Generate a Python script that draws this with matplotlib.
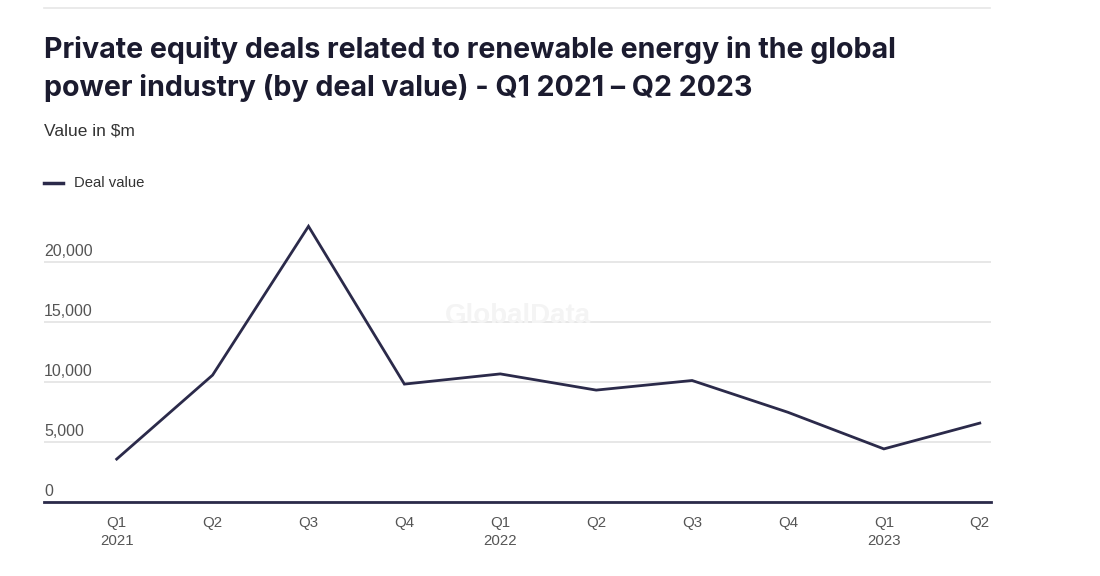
import matplotlib
matplotlib.use("Agg")
import matplotlib.pyplot as plt
from matplotlib.lines import Line2D

quarters = ["Q1", "Q2", "Q3", "Q4", "Q1", "Q2", "Q3", "Q4", "Q1", "Q2"]
years = ["2021", "", "", "", "2022", "", "", "", "2023", ""]
deal_value = [3600, 10600, 23000, 9850, 10700, 9350, 10150, 7500, 4450, 6600]
y_ticks = [0, 5000, 10000, 15000, 20000]

W, H = 1100, 576
fig = plt.figure(figsize=(W / 100, H / 100), dpi=100)
fig.patch.set_facecolor("white")

def fy(py):
    return 1 - py / H

left, right = 44 / W, 991 / W
bottom, top = fy(502.3), fy(202.3)
ax = fig.add_axes([left, bottom, right - left, top - bottom])

navy = "#2b2a4a"
grey_txt = "#555555"

x = list(range(len(deal_value)))
ax.plot(x, deal_value, color=navy, lw=2.0, solid_joinstyle="miter", zorder=3)
ax.set_xlim(-0.758, 9.117)
ax.set_ylim(0, 25000)

for s in ["top", "right", "left"]:
    ax.spines[s].set_visible(False)
ax.spines["bottom"].set_color(navy)
ax.spines["bottom"].set_linewidth(2)

ax.set_yticks(y_ticks)
ax.yaxis.grid(True, color="#e3e3e3", lw=1.2)
ax.set_axisbelow(True)
ax.tick_params(axis="y", length=0, labelleft=False)
for v in y_ticks:
    ax.text(0, v + 300, f"{v:,}", transform=ax.get_yaxis_transform(),
            ha="left", va="bottom", fontsize=11.5, color=grey_txt,
            family="Liberation Sans")

labels = [q if not y else f"{q}\n{y}" for q, y in zip(quarters, years)]
ax.set_xticks(x)
ax.set_xticklabels(labels, fontsize=10.8, color=grey_txt, family="Liberation Sans",
                   linespacing=1.35, va="top")
ax.tick_params(axis="x", length=0, pad=10)

ax.text(0.5, 0.62, "GlobalData", transform=ax.transAxes, ha="center", va="center",
        fontsize=20, fontweight="bold", color="#f4f4f4", family="Liberation Sans", zorder=1)

# top rule
fig.add_artist(Line2D([44 / W, 990 / W], [fy(8), fy(8)], color="#e6e6e6", lw=1.2))

title_font = "Inter"
fig.text(44 / W, fy(50), "Private equity deals related to renewable energy in the global",
         fontsize=20.6, fontweight="bold", color="#1b1b2f", family=title_font,
         ha="left", va="center")
fig.text(44 / W, fy(88), "power industry (by deal value) - Q1 2021 \u2013 Q2 2023",
         fontsize=20.6, fontweight="bold", color="#1b1b2f", family=title_font,
         ha="left", va="center")
fig.text(44 / W, fy(131), "Value in $m", fontsize=12.5, color="#333333",
         family="Liberation Sans", ha="left", va="center")

fig.add_artist(Line2D([44 / W, 63 / W], [fy(183), fy(183)], color=navy, lw=2.5))
fig.text(74 / W, fy(183), "Deal value", fontsize=10.7, color="#333333",
         family="Liberation Sans", ha="left", va="center")

fig.savefig("out.png", dpi=100, facecolor="white")
